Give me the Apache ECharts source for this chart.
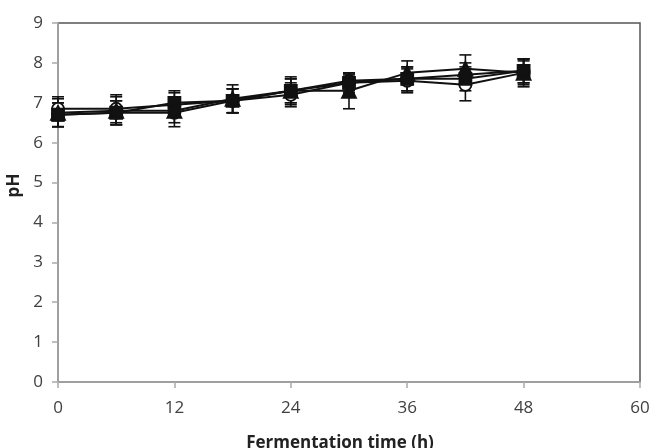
<!DOCTYPE html>
<html>
<head>
<meta charset="utf-8">
<script src="https://cdn.jsdelivr.net/npm/echarts@6/dist/echarts.min.js"></script>
<style>
  html, body { margin: 0; padding: 0; background: #fff; }
  #chart { width: 653px; height: 448px; }
</style>
</head>
<body>
<div id="chart"></div>
<script>
// fermentation time (h)
var hours = [0, 6, 12, 18, 24, 30, 36, 42, 48];
var xTicks = [0, 12, 24, 36, 48, 60];
var yTicks = [0, 1, 2, 3, 4, 5, 6, 7, 8, 9];

// pH means and errors, one pair per treatment
var phOpenCircle = [6.85, 6.85, 6.95, 7.05, 7.2, 7.5, 7.55, 7.45, 7.75];
var errOpenCircle = [0.3, 0.35, 0.3, 0.3, 0.3, 0.25, 0.3, 0.4, 0.3];
var phCircle = [6.7, 6.75, 6.75, 7.05, 7.3, 7.55, 7.6, 7.7, 7.8];
var errCircle = [0.3, 0.3, 0.35, 0.3, 0.3, 0.2, 0.3, 0.3, 0.3];
var phTriangle = [6.75, 6.8, 6.8, 7.1, 7.3, 7.3, 7.75, 7.85, 7.75];
var errTriangle = [0.35, 0.35, 0.3, 0.35, 0.35, 0.45, 0.3, 0.35, 0.35];
var phSquare = [6.7, 6.75, 7.0, 7.05, 7.3, 7.5, 7.6, 7.6, 7.8];
var errSquare = [0.3, 0.3, 0.3, 0.3, 0.3, 0.2, 0.3, 0.3, 0.3];

var chart = echarts.init(document.getElementById('chart'));

function pairs(ys) {
  return hours.map(function (h, i) { return [h, ys[i]]; });
}

function errData(ys, es) {
  return hours.map(function (h, i) { return [h, ys[i] - es[i], ys[i] + es[i]]; });
}

// vertical error bar with caps
function renderErr(params, api) {
  var lo = api.coord([api.value(0), api.value(1)]);
  var hi = api.coord([api.value(0), api.value(2)]);
  var w = 6;
  var st = { stroke: '#111', lineWidth: 1.6 };
  return {
    type: 'group',
    children: [
      { type: 'line', shape: { x1: lo[0], y1: lo[1], x2: hi[0], y2: hi[1] }, style: st },
      { type: 'line', shape: { x1: lo[0] - w, y1: lo[1], x2: lo[0] + w, y2: lo[1] }, style: st },
      { type: 'line', shape: { x1: hi[0] - w, y1: hi[1], x2: hi[0] + w, y2: hi[1] }, style: st }
    ]
  };
}

function errSeries(ys, es) {
  return {
    type: 'custom',
    renderItem: renderErr,
    data: errData(ys, es),
    encode: { x: 0, y: [1, 2] },
    z: 1,
    silent: true
  };
}

function lineSeries(ys, symbol, filled) {
  return {
    type: 'line',
    data: pairs(ys),
    symbol: symbol,
    symbolSize: symbol === 'triangle' ? 14 : 12,
    lineStyle: { color: '#111', width: 2 },
    itemStyle: { color: filled ? '#111' : '#fff', borderColor: '#111', borderWidth: 1.8 },
    z: 3,
    silent: true
  };
}

var labelFont = { fontFamily: 'Open Sans', fontSize: 17, color: '#404040' };

option = {
  animation: false,
  grid: {
    left: 58, right: 13, top: 23, bottom: 66,
    outerBoundsMode: 'none',
    containLabel: false,
    show: true, borderColor: '#555', borderWidth: 1.5, backgroundColor: '#fff'
  },
  xAxis: {
    type: 'value', min: 0, max: 60, interval: 12,
    axisLine: { lineStyle: { color: '#aaa', width: 1.5 } },
    axisTick: { show: true, inside: false, length: 6, lineStyle: { color: '#aaa', width: 1.5 } },
    axisLabel: Object.assign({ margin: 18, formatter: function (v) { return xTicks.indexOf(v) >= 0 ? v : ''; } }, labelFont),
    splitLine: { show: false },
    name: 'Fermentation time (h)',
    nameLocation: 'middle',
    nameGap: 53,
    nameTextStyle: { fontFamily: 'Open Sans', fontSize: 17, fontWeight: 'bold', color: '#222', padding: [0, 18, 0, 0] }
  },
  yAxis: {
    type: 'value', min: 0, max: 9, interval: 1,
    axisLine: { show: true, lineStyle: { color: '#aaa', width: 1.5 } },
    axisTick: { show: true, inside: false, length: 6, lineStyle: { color: '#aaa', width: 1.5 } },
    axisLabel: Object.assign({ margin: 15, formatter: function (v) { return yTicks.indexOf(v) >= 0 ? v : ''; } }, labelFont),
    splitLine: { show: false },
    name: 'pH',
    nameLocation: 'middle',
    nameGap: 34,
    nameTextStyle: { fontFamily: 'Open Sans', fontSize: 17, fontWeight: 'bold', color: '#222', padding: [0, 0, 0, 34] }
  },
  series: [
    errSeries(phOpenCircle, errOpenCircle),
    errSeries(phCircle, errCircle),
    errSeries(phTriangle, errTriangle),
    errSeries(phSquare, errSquare),
    lineSeries(phOpenCircle, 'circle', false),
    lineSeries(phSquare, 'rect', true),
    lineSeries(phTriangle, 'triangle', true),
    lineSeries(phCircle, 'circle', true)
  ]
};

chart.setOption(option);
</script>
</body>
</html>
